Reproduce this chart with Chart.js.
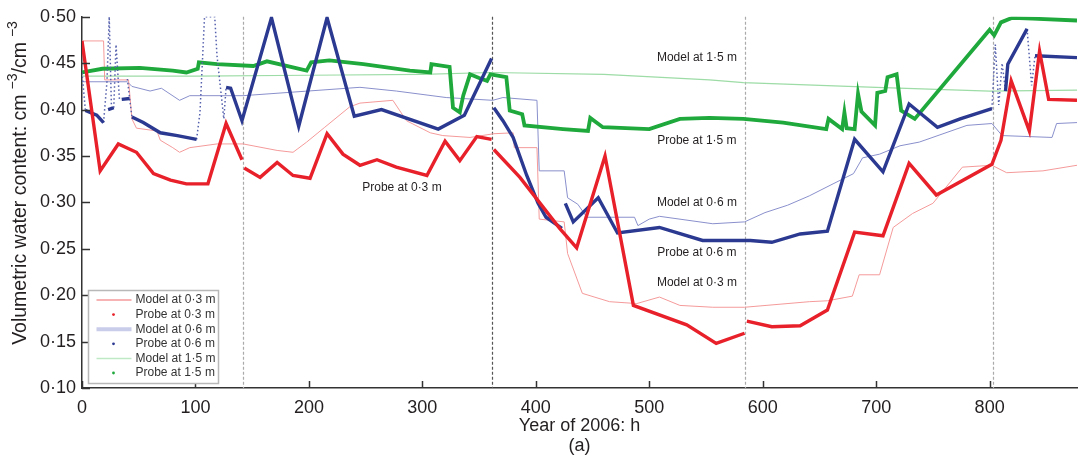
<!DOCTYPE html>
<html>
<head>
<meta charset="utf-8">
<script src="https://cdn.jsdelivr.net/npm/chart.js@4.4.1/dist/chart.umd.min.js"></script>
<style>
html,body{margin:0;padding:0;background:#fff}
canvas{display:block}
</style>
</head>
<body>
<canvas id="soil" width="1078" height="463"></canvas>
<script>
// hours (x) and water content (y); null = gap in the record
const probe03H = [0,16,32,48,63,78,92,111,127,141, 142, 143,157,172,186,201,216,230,245,260,277,304,320,333,348,361, 362, 363,386,421,436,461,486,533,559,584, 585, 586,608,633,657,681,706,729,753,802,810,819,835,844,852,877];
const probe03V = [0.474,0.334,0.363,0.354,0.331,0.324,0.320,0.320,0.385,0.346, null, 0.337,0.327,0.343,0.329,0.326,0.374,0.352,0.340,0.346,0.338,0.329,0.366,0.345,0.371,0.368, null, 0.357,0.327,0.272,0.251,0.350,0.189,0.168,0.148,0.159, null, 0.172,0.166,0.167,0.184,0.268,0.264,0.342,0.308,0.341,0.367,0.431,0.377,0.463,0.411,0.410];

const probe06H = [3,13,19, 20, 23,28, 29, 35,42, 43, 44,54,69,84,101, 102, 127,131,141,167,191,216,240,264,314,337,361, 362, 363,371,380,392,402,409,423, 424, 426,433,455,472,509,547,589,608,633,657,681,706,729,754,774,802, 803, 814,816,833, 834, 840,877];
const probe06V = [0.399,0.394,0.386, null, 0.400,0.402, null, 0.411,0.412, null, 0.392,0.386,0.375,0.372,0.368, null, 0.424,0.423,0.388,0.499,0.382,0.499,0.393,0.400,0.379,0.394,0.455, null, 0.402,0.388,0.370,0.329,0.299,0.284,0.272, null, 0.299,0.279,0.305,0.267,0.273,0.259,0.259,0.257,0.266,0.269,0.368,0.333,0.406,0.381,0.390,0.401, null, 0.420,0.449,0.487, null, 0.458,0.456];

// scattered probe 0.6 readings (fast jumps)
const spikes06H = [0,3, 4, 19,22,24,26, 27, 28,30,33, 34, 40,42,44, 45, 101,104,108,117,119,125,127, 128, 802,805,808,811,814, 815, 833,837,840];
const spikes06V = [0.440,0.399, null, 0.386,0.430,0.500,0.400, null, 0.402,0.470,0.411, null, 0.433,0.412,0.392, null, 0.368,0.397,0.500,0.500,0.458,0.390,0.424, null, 0.401,0.470,0.405,0.450,0.420, null, 0.487,0.426,0.458];

const probe15H = [0,18,51,80,92,102,103,119,151,163,198,202,218,248,289,307,308,324,327,333,336,342,350,357,360,374,377,388,390,424,446,448,459,500,527,553,583,618,656,658,670,672,674,681,684,687,699,701,708,710,718,722,734,800,804,810,820,838,877];
const probe15V = [0.440,0.444,0.445,0.442,0.440,0.444,0.451,0.449,0.447,0.452,0.442,0.451,0.453,0.449,0.442,0.440,0.449,0.446,0.402,0.397,0.415,0.438,0.434,0.431,0.438,0.435,0.399,0.395,0.383,0.379,0.377,0.391,0.381,0.379,0.390,0.391,0.390,0.386,0.379,0.390,0.379,0.397,0.380,0.379,0.417,0.398,0.383,0.418,0.420,0.435,0.438,0.399,0.390,0.486,0.480,0.494,0.499,0.498,0.496];

const model03H = [0,19,20,41,44,48,66,69,80,86,95,119,142,172,186,198,214,236,245,274,286,307,318,342,363,380,381,401,403,425,428,441,465,489,509,527,556,584,641,657,679,685,703,715,732,750,776,802,815,847,877];
const model03V = [0.474,0.474,0.432,0.432,0.390,0.380,0.377,0.367,0.359,0.354,0.359,0.363,0.363,0.356,0.354,0.365,0.381,0.403,0.407,0.410,0.388,0.375,0.372,0.370,0.374,0.375,0.359,0.359,0.282,0.279,0.245,0.202,0.193,0.191,0.198,0.189,0.187,0.187,0.193,0.194,0.199,0.222,0.222,0.273,0.288,0.299,0.338,0.340,0.332,0.334,0.340];

const model06H = [0,40,44,60,70,86,95,142,245,277,321,362,371,401,403,425,428,437,445,487,490,500,509,556,584,602,622,641,662,680,688,703,721,738,780,802,811,855,859,877];
const model06V = [0.430,0.430,0.425,0.420,0.423,0.410,0.415,0.415,0.424,0.420,0.413,0.410,0.413,0.410,0.334,0.334,0.305,0.298,0.284,0.284,0.275,0.282,0.285,0.277,0.279,0.289,0.297,0.307,0.320,0.331,0.348,0.352,0.361,0.365,0.383,0.385,0.372,0.370,0.385,0.386];

const model15H = [0,100,200,300,361,460,553,583,700,800,877];
const model15V = [0.436,0.436,0.437,0.438,0.440,0.438,0.432,0.429,0.424,0.420,0.421];

const dayBreaks = [142, 361, 584, 803];
const xTicks = [0,100,200,300,400,500,600,700,800];
const yTicks = [0.10,0.15,0.20,0.25,0.30,0.35,0.40,0.45,0.50];

const FONT = "'Liberation Sans', Arial, Helvetica, sans-serif";
const INK = '#231f20';
const RED = '#e8202a', RED_L = '#f59a9a';
const BLUE = '#2b3990', BLUE_L = '#8a90cc';
const GREEN = '#1fa83c', GREEN_L = '#9ddca6';

const toPts = (hs, vs) => hs.map((h, i) => ({x: h, y: vs[i]}));
const dot = v => v.toFixed(2).replace('.', '\u00B7');

const line = (data, color, width, extra) => Object.assign({
  data, borderColor: color, borderWidth: width, pointRadius: 0,
  tension: 0, spanGaps: false, fill: false
}, extra || {});

// labels written beside the curves
const notes = [
  {t:'Model at 1\u00B75 m', h:542, v:0.456},
  {t:'Probe at 1\u00B75 m', h:542, v:0.367},
  {t:'Model at 0\u00B76 m', h:542, v:0.300},
  {t:'Probe at 0\u00B76 m', h:542, v:0.246},
  {t:'Model at 0\u00B73 m', h:542, v:0.213},
  {t:'Probe at 0\u00B73 m', h:282, v:0.316}
];

const legendRows = [
  {t:'Model at 0\u00B73 m', kind:'line', c:RED_L, w:1.5},
  {t:'Probe at 0\u00B73 m', kind:'dot', c:RED},
  {t:'Model at 0\u00B76 m', kind:'line', c:'#c9cdea', w:4},
  {t:'Probe at 0\u00B76 m', kind:'dot', c:BLUE},
  {t:'Model at 1\u00B75 m', kind:'line', c:'#bfe9c5', w:1.5},
  {t:'Probe at 1\u00B75 m', kind:'dot', c:GREEN}
];

const decor = {
  id: 'decor',
  beforeDatasetsDraw(chart) {
    const {ctx, chartArea: a, scales: {x}} = chart;
    ctx.save();
    ctx.setLineDash([3, 2]);
    ctx.lineWidth = 1.2;
    dayBreaks.forEach((h, i) => {
      const px = Math.round(x.getPixelForValue(h)) + 0.5;
      ctx.strokeStyle = i === 1 ? '#555' : '#aaa';
      ctx.beginPath(); ctx.moveTo(px, a.top); ctx.lineTo(px, a.bottom); ctx.stroke();
    });
    ctx.restore();
  },
  afterDraw(chart) {
    const {ctx, chartArea: a, scales: {x, y}} = chart;
    ctx.save();
    // inward ticks
    ctx.strokeStyle = '#333'; ctx.lineWidth = 1.5;
    yTicks.forEach(v => {
      const py = Math.round(y.getPixelForValue(v)) + 0.5;
      ctx.beginPath(); ctx.moveTo(a.left, py); ctx.lineTo(a.left + 8, py); ctx.stroke();
    });
    xTicks.forEach(h => {
      const px = Math.round(x.getPixelForValue(h)) + 0.5;
      ctx.beginPath(); ctx.moveTo(px, a.bottom); ctx.lineTo(px, a.bottom - 7); ctx.stroke();
    });

    // curve labels
    ctx.fillStyle = INK;
    ctx.font = '12px ' + FONT;
    ctx.textAlign = 'center'; ctx.textBaseline = 'middle';
    notes.forEach(n => ctx.fillText(n.t, x.getPixelForValue(n.h), y.getPixelForValue(n.v)));

    // x title
    ctx.font = '18px ' + FONT;
    const cx = (a.left + a.right) / 2;
    ctx.fillText('Year of 2006: h', cx, 426);
    ctx.fillText('(a)', cx, 446);

    // y title with superscripts
    const parts = [
      {t:'Volumetric water content: cm', sup:false},
      {t:'\u22123', sup:true},
      {t:'/cm', sup:false},
      {t:'\u22123', sup:true}
    ];
    const wOf = p => {
      ctx.font = (p.sup ? '14px ' : '19.5px ') + FONT;
      return ctx.measureText(p.t).width + (p.sup ? 5 : 0);
    };
    const total = parts.reduce((s, p) => s + wOf(p), 0);
    ctx.translate(21, 183);
    ctx.rotate(-Math.PI / 2);
    ctx.textAlign = 'left';
    let off = -total / 2;
    parts.forEach(p => {
      const w = wOf(p);
      ctx.fillText(p.t, off + (p.sup ? 5 : 0), p.sup ? -8 : 0);
      off += w;
    });
    ctx.setTransform(1, 0, 0, 1, 0, 0);

    // legend box
    const bx = a.left + 6.5, by = 290.5, bw = 130, bh = 93;
    ctx.fillStyle = '#fff';
    ctx.fillRect(bx, by, bw, bh);
    ctx.strokeStyle = '#b8b8b8'; ctx.lineWidth = 1.5;
    ctx.strokeRect(bx, by, bw, bh);
    ctx.font = '12px ' + FONT;
    ctx.textBaseline = 'middle';
    legendRows.forEach((r, i) => {
      const ry = by + 9.5 + i * 14.6;
      if (r.kind === 'line') {
        ctx.strokeStyle = r.c; ctx.lineWidth = r.w;
        ctx.beginPath(); ctx.moveTo(bx + 8, ry); ctx.lineTo(bx + 43, ry); ctx.stroke();
      } else {
        ctx.fillStyle = r.c;
        ctx.beginPath(); ctx.arc(bx + 25, ry, 1.4, 0, Math.PI * 2); ctx.fill();
      }
      ctx.fillStyle = '#333';
      ctx.fillText(r.t, bx + 47, ry);
    });
    ctx.restore();
  }
};

new Chart(document.getElementById('soil').getContext('2d'), {
  type: 'line',
  data: {
    datasets: [
      line(toPts(probe03H, probe03V), RED, 3.4, {label:'Probe at 0\u00B73 m'}),
      line(toPts(probe06H, probe06V), BLUE, 3.4, {label:'Probe at 0\u00B76 m'}),
      line(toPts(spikes06H, spikes06V), '#5560ad', 1.5, {label:'Probe at 0\u00B76 m (scatter)', borderDash:[1.5, 2.5]}),
      line(toPts(probe15H, probe15V), GREEN, 3.8, {label:'Probe at 1\u00B75 m'}),
      line(toPts(model03H, model03V), RED_L, 1, {label:'Model at 0\u00B73 m'}),
      line(toPts(model06H, model06V), BLUE_L, 1, {label:'Model at 0\u00B76 m'}),
      line(toPts(model15H, model15V), GREEN_L, 1.2, {label:'Model at 1\u00B75 m'})
    ]
  },
  options: {
    responsive: false,
    animation: false,
    layout: {padding: {top: 16, right: 1, left: 0, bottom: 0}},
    plugins: {legend: {display: false}, tooltip: {enabled: false}},
    scales: {
      x: {
        type: 'linear', min: 0, max: 877,
        afterFit: s => { s.height = 75; },
        afterBuildTicks: s => { s.ticks = xTicks.map(v => ({value: v})); },
        ticks: {color: INK, font: {size: 18, family: FONT}, padding: 9, maxRotation: 0},
        grid: {drawOnChartArea: false, drawTicks: false},
        border: {display: true, color: '#333', width: 1.5}
      },
      y: {
        min: 0.10, max: 0.50,
        afterFit: s => { s.width = 82; },
        afterBuildTicks: s => { s.ticks = yTicks.map(v => ({value: v})); },
        ticks: {color: INK, font: {size: 18, family: FONT}, padding: 6, callback: v => dot(v)},
        grid: {drawOnChartArea: false, drawTicks: false},
        border: {display: true, color: '#333', width: 1.5}
      }
    }
  },
  plugins: [decor]
});
</script>
</body>
</html>
